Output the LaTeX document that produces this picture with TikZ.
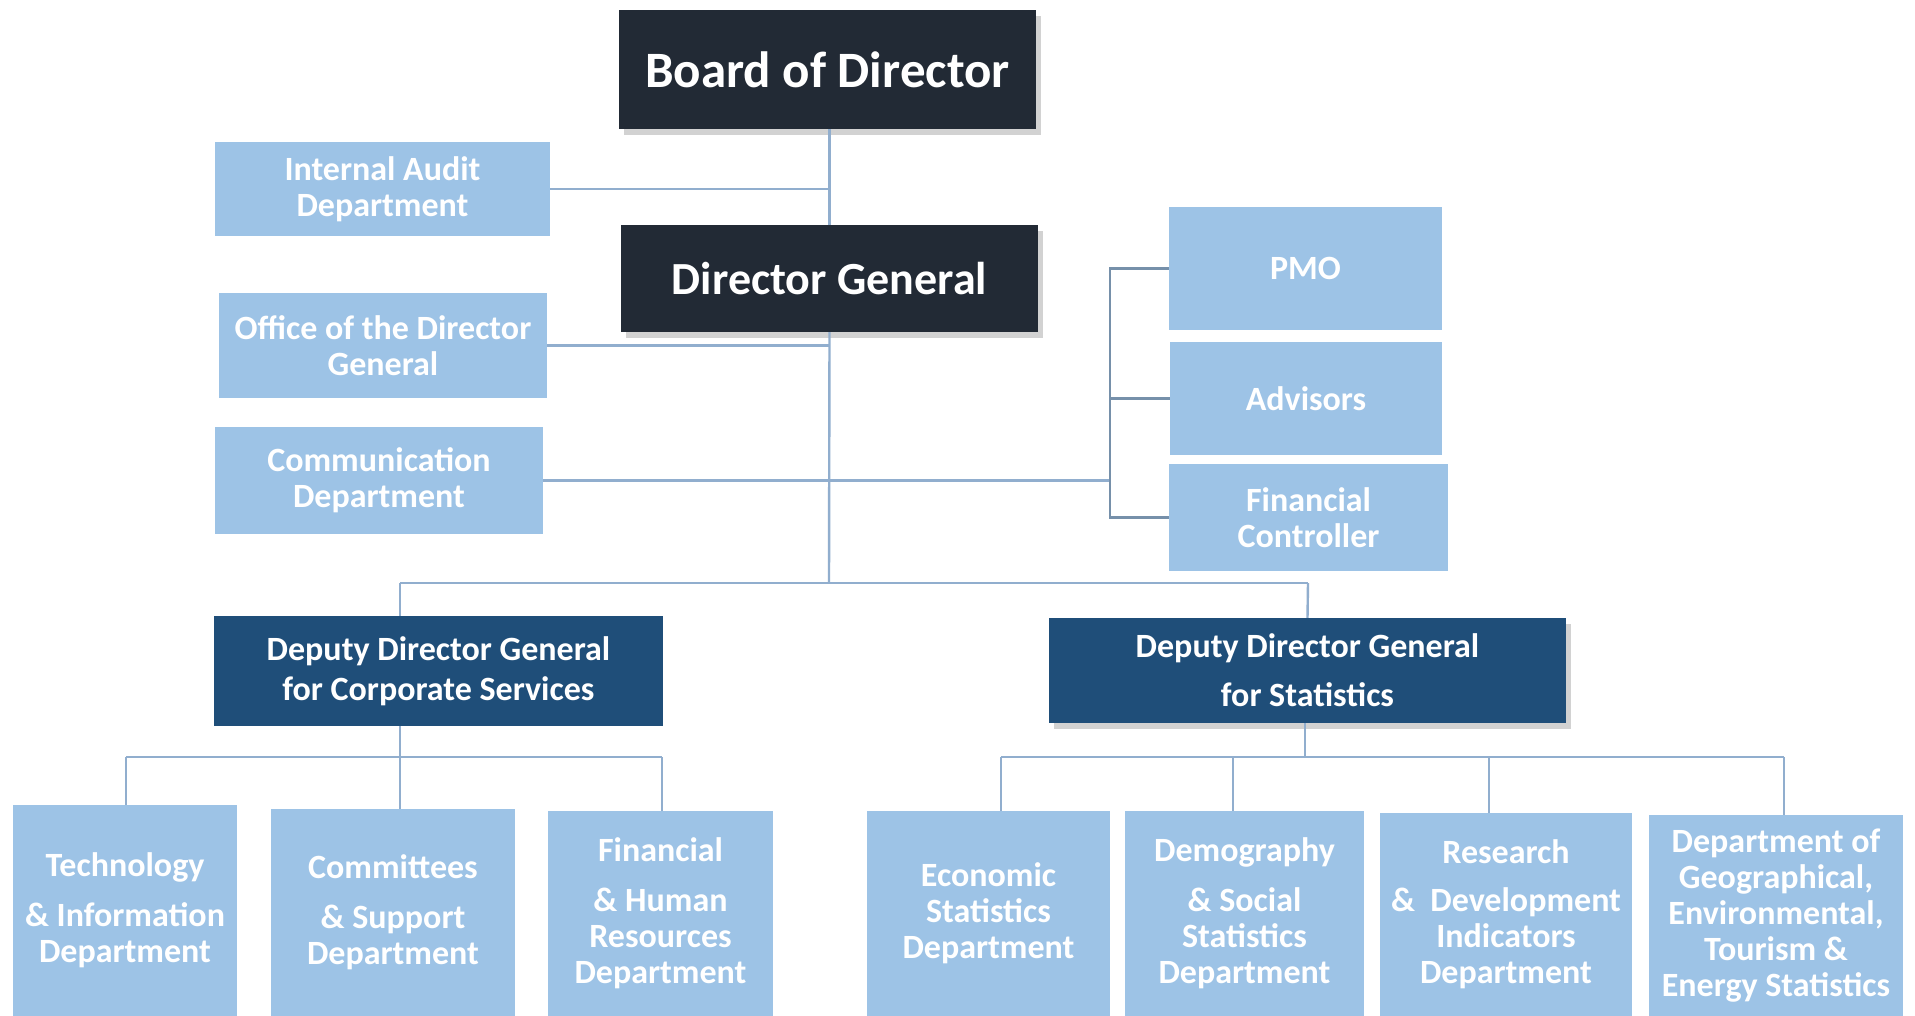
\documentclass[tikz,border=0pt]{standalone}
\usepackage{fontspec}
\setmainfont{Carlito}
\usetikzlibrary{shadows}
\definecolor{lightbox}{RGB}{157,195,230}
\definecolor{darkbox}{RGB}{34,42,53}
\definecolor{navybox}{RGB}{31,78,121}
\definecolor{connc}{RGB}{145,174,206}
\definecolor{brkc}{RGB}{118,144,170}
\tikzset{
  lbox/.style={rectangle, fill=lightbox, inner sep=0pt, align=center, text=white,
    font=\fontsize{34}{36}\selectfont\bfseries},
  dbox/.style={rectangle, fill=darkbox, inner sep=0pt, align=center, text=white,
    drop shadow={opacity=0.35, shadow xshift=5pt, shadow yshift=-6pt}},
  nbox/.style={rectangle, fill=navybox, inner sep=0pt, align=center, text=white,
    font=\fontsize{34}{40}\selectfont\bfseries},
  conn/.style={draw=connc, line width=2.4pt},
  brk/.style={draw=brkc, line width=2.4pt},
}
\begin{document}
\begin{tikzpicture}[x=1pt,y=-1pt]
\useasboundingbox (0,0) rectangle (1915,1016);
\fill[white] (0,0) rectangle (1915,1016);

% top level
\node[dbox, minimum width=417pt, minimum height=119pt, font=\fontsize{51}{56}\selectfont\bfseries]
  (board) at (827.5,69.5) {Board of Director};
\node[dbox, minimum width=417pt, minimum height=107pt, font=\fontsize{46}{50}\selectfont\bfseries]
  (dg) at (829.5,278.5) {Director General};

% staff units left
\node[lbox, minimum width=335pt, minimum height=94pt] (ia) at (382.5,189) {Internal Audit\\Department};
\node[lbox, minimum width=328pt, minimum height=105pt] (office) at (383,345.5) {Office of the Director\\General};
\node[lbox, minimum width=328pt, minimum height=107pt] (comm) at (379,480.5) {Communication\\Department};

% staff units right
\node[lbox, minimum width=273pt, minimum height=123pt] (pmo) at (1305.5,268.5) {PMO};
\node[lbox, minimum width=272pt, minimum height=113pt] (adv) at (1306,398.5) {Advisors};
\node[lbox, minimum width=279pt, minimum height=107pt] (fc) at (1308.5,517.5) {Financial\\Controller};

% deputies
\node[nbox, minimum width=449pt, minimum height=110pt] (ddgc) at (438.5,671) {Deputy Director General\\for Corporate Services};
\node[nbox, minimum width=517pt, minimum height=105pt,
  drop shadow={opacity=0.35, shadow xshift=5pt, shadow yshift=-6pt}]
  (ddgs) at (1307.5,670.5) {Deputy Director General\\[9pt]for Statistics};

% departments
\node[lbox, minimum width=224pt, minimum height=211pt] (tech) at (125,910.5) {Technology\\[14pt]\& Information\\Department};
\node[lbox, minimum width=244pt, minimum height=207pt] (csd) at (393,912.5) {Committees\\[14pt]\& Support\\Department};
\node[lbox, minimum width=225pt, minimum height=205pt] (fhr) at (660.5,913.5) {Financial\\[14pt]\& Human\\Resources\\Department};
\node[lbox, minimum width=243pt, minimum height=205pt] (eco) at (988.5,913.5) {Economic\\Statistics\\Department};
\node[lbox, minimum width=239pt, minimum height=205pt] (demo) at (1244.5,913.5) {Demography\\[14pt]\& Social\\Statistics\\Department};
\node[lbox, minimum width=252pt, minimum height=203pt] (rnd) at (1506,914.5) {Research\\[12pt]\& \ Development\\Indicators\\Department};
\node[lbox, minimum width=254pt, minimum height=201pt] (geo) at (1776,915.5) {Department of\\Geographical,\\Environmental,\\Tourism \&\\Energy Statistics};

% junction coordinates
\coordinate (busT) at (829,583);
\coordinate (jl) at (400,583);
\coordinate (jr) at (1308,583);
\coordinate (lb) at (400,757);
\coordinate (lbl) at (126,757);
\coordinate (lbr) at (662,757);
\coordinate (rb) at (1305,757);
\coordinate (rb1) at (1001,757);
\coordinate (rb2) at (1233,757);
\coordinate (rb3) at (1489,757);
\coordinate (rb4) at (1784,757);
\coordinate (bx) at (1110,0);

% connectors top
\draw[conn] (dg.north |- board.south) -- (dg.north);
\draw[conn] (ia.east) -- (ia.east -| dg.north);
\draw[conn] (office.east) -- (office.east -| dg.north);
\draw[conn] (dg.south) -- (busT);
\draw[conn] (comm.east) -- (comm.east -| bx);
\draw[brk] (pmo.west) -- (pmo.west -| bx) -- (fc.west -| bx) -- (fc.west);
\draw[brk] (adv.west) -- (adv.west -| bx);

% connectors to deputies
\draw[conn] (jl) -- (jr);
\draw[conn] (jl) -- (jl |- ddgc.north);
\draw[conn] (jr) -- (ddgs.north);

% left subtree
\draw[conn] (lb |- ddgc.south) -- (lb);
\draw[conn] (lbl) -- (lbr);
\draw[conn] (lbl) -- (lbl |- tech.north);
\draw[conn] (lb) -- (lb |- csd.north);
\draw[conn] (lbr) -- (lbr |- fhr.north);

% right subtree
\draw[conn] (rb |- ddgs.south) -- (rb);
\draw[conn] (rb1) -- (rb4);
\draw[conn] (rb1) -- (rb1 |- eco.north);
\draw[conn] (rb2) -- (rb2 |- demo.north);
\draw[conn] (rb3) -- (rb3 |- rnd.north);
\draw[conn] (rb4) -- (rb4 |- geo.north);
\end{tikzpicture}
\end{document}
